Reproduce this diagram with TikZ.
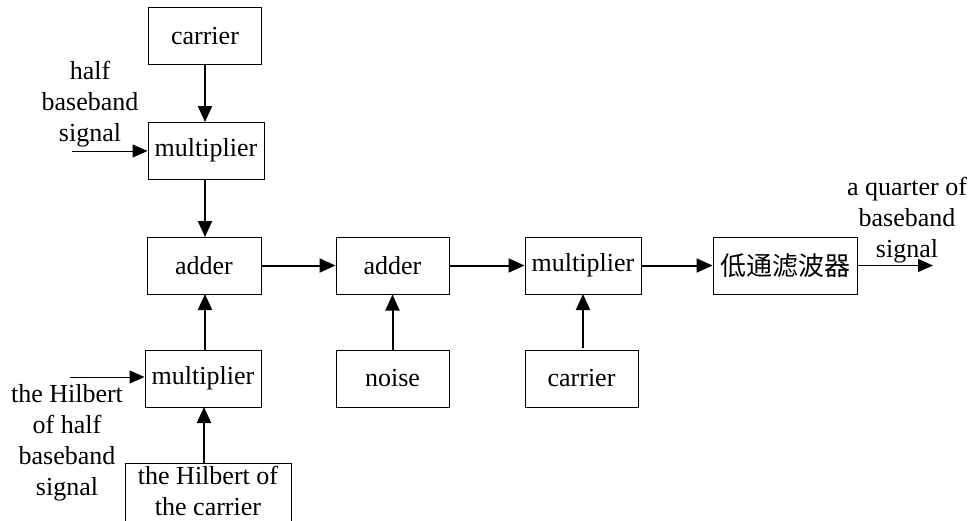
\documentclass[tikz,border=0pt]{standalone}
\usepackage{fontspec}
\setmainfont{Liberation Serif}
\newfontfamily\cjkfont{Noto Sans CJK SC}
\usetikzlibrary{arrows.meta}
\begin{document}
\begin{tikzpicture}[x=1pt,y=-1pt,
  font=\fontsize{26}{31}\selectfont,
  blk/.style={draw, line width=1pt, minimum height=57pt, inner sep=2pt},
  flow/.style={line width=2pt, -{Triangle[length=16pt,width=14pt]}},
  feed/.style={line width=1pt, -{Triangle[length=15pt,width=13pt]}},
  lbl/.style={align=center, inner sep=0pt}]
\useasboundingbox (0,0) rectangle (972,520);
\node[blk, minimum width=113pt] (car1) at (205,36) {carrier};
\node[blk, minimum width=116pt] (mul1) at (206,150.5) {multiplier};
\node[blk, minimum width=114pt] (add1) at (204,265.5) {adder};
\node[blk, minimum width=116pt] (mul2) at (203,378.5) {multiplier};
\node[blk, minimum width=166pt, minimum height=0pt, inner ysep=3pt, align=center, anchor=north] (hil) at (208,463) {the Hilbert of\\the carrier\\ \mbox{}};
\node[blk, minimum width=113pt] (add2) at (392.5,265.5) {adder};
\node[blk, minimum width=113pt] (noise) at (392.5,378.5) {noise};
\node[blk, minimum width=116pt] (mul3) at (583,265.5) {multiplier};
\node[blk, minimum width=113pt] (car2) at (581.5,378.5) {carrier};
\node[blk, minimum width=144pt] (lpf) at (785,265.5) {\cjkfont 低通滤波器};

\node[lbl] (lblhalf) at (90,104) {half\\baseband\\signal};
\node[lbl] (lblhil) at (67,443) {the Hilbert\\of half\\baseband\\signal};
\node[lbl] (lblout) at (907,220) {a quarter of\\baseband\\signal};

\coordinate (inA) at (72,151);
\coordinate (inB) at (70,377);
\coordinate (outC) at (933,265.5);

\draw[flow] (205,65) -- (205,122);
\draw[flow] (205,179) -- (205,237);
\draw[flow] (205,350) -- (205,294);
\draw[flow] (hil.north -| 204,0) -- (204,407);
\draw[flow] (392.5,350) -- (add2.south);
\draw[flow] (583,348) -- (583,294);
\draw[flow] (add1.east) -- (add2.west);
\draw[flow] (add2.east) -- (mul3.west);
\draw[flow] (mul3.east) -- (lpf.west);
\draw[feed] (inA) -- (mul1.west |- inA);
\draw[feed] (inB) -- (mul2.west |- inB);
\draw[feed] (lpf.east) -- (outC);
\end{tikzpicture}
\end{document}
